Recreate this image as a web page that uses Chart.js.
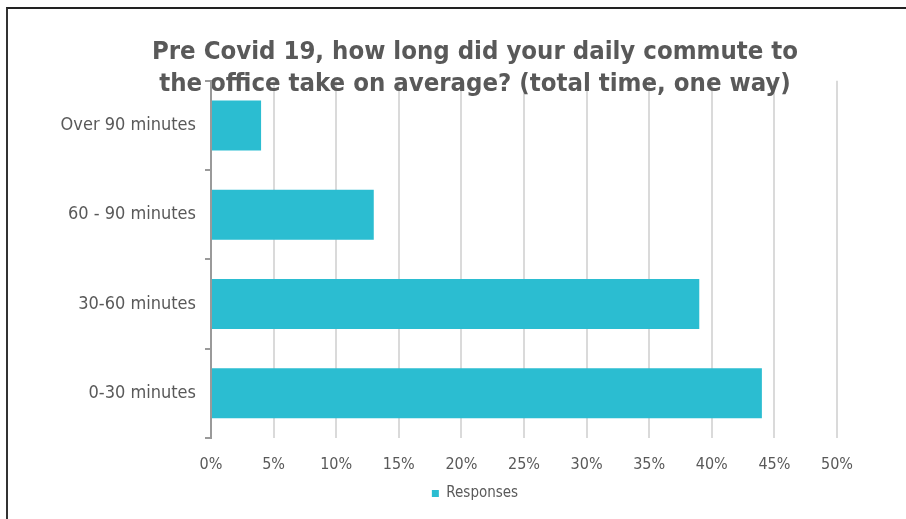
<!DOCTYPE html>
<html>
<head>
<meta charset="utf-8">
<script src="https://cdn.jsdelivr.net/npm/chart.js@4"></script>
<style>
  html, body { margin: 0; padding: 0; background: #fff; }
  #wrap { position: relative; width: 906px; height: 519px; }
  #frame { position: absolute; left: 6px; top: 7px; right: 0; bottom: 0;
           border-top: 2px solid #222; border-left: 2px solid #333; pointer-events: none; }
</style>
</head>
<body>
<div id="wrap">
  <canvas id="commute" width="906" height="519"></canvas>
  <div id="frame"></div>
</div>
<script>
const categories = ["Over 90 minutes", "60 - 90 minutes", "30-60 minutes", "0-30 minutes"];
const responses = [0.04, 0.13, 0.39, 0.44];
const titleLines = ["Pre Covid 19, how long did your daily commute to", "the office take on average? (total time, one way)"];

const grey = "#595959";
const fam = "'DejaVu Sans Condensed', 'DejaVu Sans', sans-serif";

const ctx = document.getElementById("commute");
let chart = new Chart(ctx, {
    type: 'bar',
    data: {
        labels: categories,
        datasets: [
            {
                label: "Responses",
                data: responses,
                backgroundColor: "#2bbdd1",
                borderWidth: 0,
                categoryPercentage: 1.0,
                barPercentage: 0.56
            }
        ]
    },
    options: {
        indexAxis: 'y',
        responsive: false,
        animation: false,
        layout: { padding: { left: 113, right: 69, top: 0, bottom: 8 } },
        plugins: {
            title: {
                display: true,
                text: titleLines,
                color: grey,
                font: { family: fam, size: 25.5, weight: 'bold', lineHeight: 1.27 },
                padding: { top: 36, bottom: -20 }
            },
            legend: {
                position: 'bottom',
                labels: {
                    color: grey,
                    font: { family: fam, size: 15 },
                    boxWidth: 7,
                    boxHeight: 7,
                    padding: 3
                }
            },
            tooltip: { enabled: false }
        },
        scales: {
            x: {
                min: 0,
                max: 0.5,
                ticks: {
                    stepSize: 0.05,
                    color: grey,
                    font: { family: fam, size: 16 },
                    padding: 17,
                    callback: v => Math.round(v * 100) + "%"
                },
                grid: { color: "#dadada", lineWidth: 2, drawTicks: false },
                border: { display: false },
                // pull the legend closer to the percent labels
                afterFit: scale => { scale.height -= 8; }
            },
            y: {
                ticks: {
                    color: grey,
                    font: { family: fam, size: 18 },
                    padding: 9
                },
                grid: { offset: true, drawOnChartArea: false, drawTicks: true, tickLength: 6, color: "#9a9a9a", lineWidth: 2 },
                border: { display: true, color: "#9a9a9a", width: 2 },
                // narrow axis box so the title and legend sit right of centre; labels may spill left
                afterFit: scale => {
                    scale.width = 98;
                    scale._computeLabelArea = () => undefined;
                }
            }
        }
    }
});
</script>
</body>
</html>
